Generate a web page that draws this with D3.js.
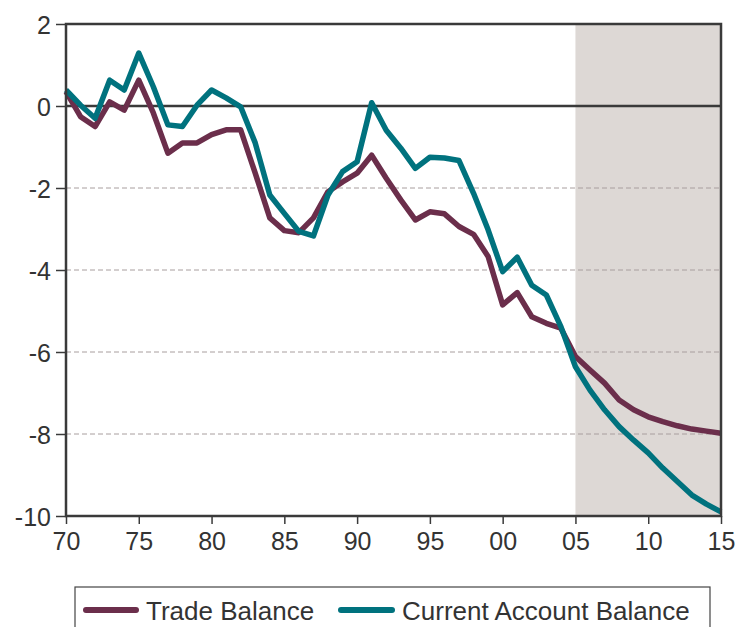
<!DOCTYPE html>
<html>
<head>
<meta charset="utf-8">
<script src="https://cdn.jsdelivr.net/npm/d3@7"></script>
<style>
  body { margin: 0; background: #fff; }
  svg text { font-family: "Liberation Sans", Arial, sans-serif; fill: #333; }
</style>
</head>
<body>
<svg id="chart" width="738" height="627"></svg>
<script>
// Years 1970..2015
const years = d3.range(1970, 2016);

const tradeBalance = [
  0.35, -0.26, -0.5, 0.1, -0.1, 0.63, -0.17, -1.15, -0.9, -0.9,
  -0.7, -0.58, -0.58, -1.64, -2.73, -3.04, -3.09, -2.73, -2.09, -1.85,
  -1.64, -1.2, -1.76, -2.29, -2.78, -2.58, -2.63, -2.94, -3.13, -3.67,
  -4.85, -4.55, -5.14, -5.3, -5.42, -6.11, -6.44, -6.76, -7.17, -7.41,
  -7.58, -7.7, -7.8, -7.88, -7.93, -7.98
];

const currentAccount = [
  0.39, 0.02, -0.3, 0.63, 0.39, 1.29, 0.47, -0.46, -0.5, 0.02,
  0.39, 0.2, -0.02, -0.9, -2.17, -2.62, -3.06, -3.17, -2.17, -1.6,
  -1.36, 0.08, -0.59, -1.03, -1.52, -1.25, -1.27, -1.33, -2.13, -3.02,
  -4.04, -3.69, -4.37, -4.61, -5.38, -6.36, -6.93, -7.41, -7.82, -8.15,
  -8.46, -8.83, -9.16, -9.49, -9.71, -9.9
];

const xTicks = [1970, 1975, 1980, 1985, 1990, 1995, 2000, 2005, 2010, 2015];
const yTicks = [2, 0, -2, -4, -6, -8, -10];
const gridValues = [-2, -4, -6, -8];
const forecastSpan = [2005, 2015];

const series = [
  { name: 'Trade Balance', values: tradeBalance, color: '#6b2e4b' },
  { name: 'Current Account Balance', values: currentAccount, color: '#00727e' }
];

const svg = d3.select('#chart');
const plot = { left: 66, right: 721, top: 24, bottom: 516 };

const x = d3.scaleLinear().domain([1970, 2015]).range([plot.left, plot.right]);
const y = d3.scaleLinear().domain([-10, 2]).range([plot.bottom, plot.top]);

// shaded forecast region
svg.append('rect')
  .attr('x', x(forecastSpan[0])).attr('y', plot.top)
  .attr('width', x(forecastSpan[1]) - x(forecastSpan[0]))
  .attr('height', plot.bottom - plot.top)
  .attr('fill', '#ddd8d5');

// gridlines
svg.append('g').selectAll('line')
  .data(gridValues)
  .join('line')
  .attr('x1', plot.left).attr('x2', plot.right)
  .attr('y1', d => y(d)).attr('y2', d => y(d))
  .attr('stroke', '#a89e9e')
  .attr('stroke-width', 1)
  .attr('stroke-dasharray', '5,3');

// zero line
svg.append('line')
  .attr('x1', plot.left).attr('x2', plot.right)
  .attr('y1', y(0)).attr('y2', y(0))
  .attr('stroke', '#3a3a3a').attr('stroke-width', 2.5);

// lines
const line = d3.line()
  .x((d, i) => x(years[i]))
  .y(d => y(d));

svg.append('g').selectAll('path')
  .data(series)
  .join('path')
  .attr('d', d => line(d.values))
  .attr('fill', 'none')
  .attr('stroke', d => d.color)
  .attr('stroke-width', 5.5)
  .attr('stroke-linejoin', 'round');

// frame
svg.append('rect')
  .attr('x', plot.left).attr('y', plot.top)
  .attr('width', plot.right - plot.left).attr('height', plot.bottom - plot.top)
  .attr('fill', 'none')
  .attr('stroke', '#3a3a3a').attr('stroke-width', 2.5);

// axes
const xAxis = svg.append('g')
  .attr('transform', `translate(0,${plot.bottom})`)
  .call(d3.axisBottom(x).tickValues(xTicks).tickSize(8).tickPadding(8)
    .tickFormat(d => String(d % 100).padStart(2, '0')));

const yAxis = svg.append('g')
  .attr('transform', `translate(${plot.left},0)`)
  .call(d3.axisLeft(y).tickValues(yTicks).tickSize(10).tickPadding(5)
    .tickFormat(d => String(d)));

[xAxis, yAxis].forEach(g => {
  g.select('.domain').remove();
  g.selectAll('.tick line').attr('stroke', '#3a3a3a').attr('stroke-width', 1.5);
  g.selectAll('.tick text').attr('font-size', 25).attr('fill', '#333');
});
yAxis.selectAll('.tick text').attr('dy', '0.36em');

// legend
const legend = svg.append('g');
legend.append('rect')
  .attr('x', 75).attr('y', 587)
  .attr('width', 635).attr('height', 60)
  .attr('fill', '#fff')
  .attr('stroke', '#444').attr('stroke-width', 1.2);

const legendItems = [
  { s: series[0], x0: 86, x1: 136, tx: 146 },
  { s: series[1], x0: 341, x1: 392, tx: 402 }
];
legendItems.forEach(it => {
  legend.append('line')
    .attr('x1', it.x0).attr('x2', it.x1)
    .attr('y1', 610).attr('y2', 610)
    .attr('stroke', it.s.color).attr('stroke-width', 6)
    .attr('stroke-linecap', 'round');
  legend.append('text')
    .attr('x', it.tx).attr('y', 620)
    .attr('font-size', 26)
    .text(it.s.name);
});
</script>
</body>
</html>
